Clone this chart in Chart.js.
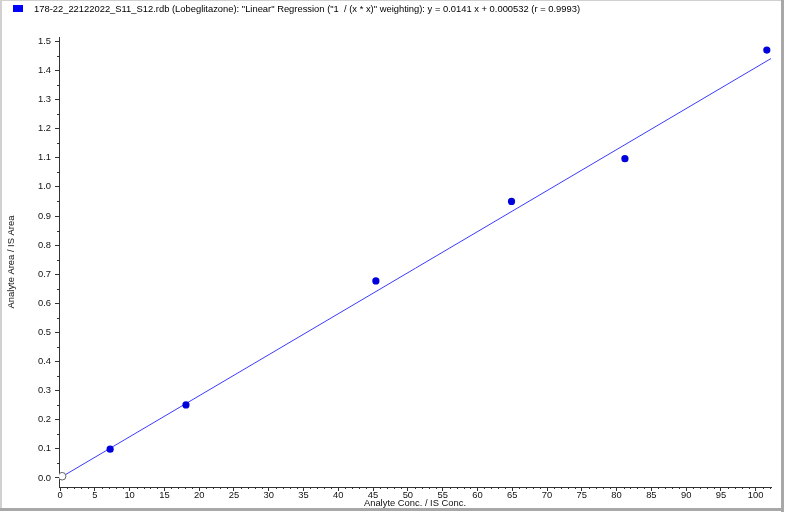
<!DOCTYPE html>
<html>
<head>
<meta charset="utf-8">
<script src="https://cdn.jsdelivr.net/npm/chart.js@4/dist/chart.umd.min.js"></script>
<style>
html,body{margin:0;padding:0;background:#fff;}
#wrap{width:786px;height:512px;position:relative;}
</style>
</head>
<body>
<div id="wrap"><canvas id="c" width="786" height="512"></canvas></div>
<script>
const legendText = '178-22_22122022_S11_S12.rdb (Lobeglitazone): "Linear" Regression ("1  / (x * x)" weighting): y = 0.0141 x + 0.000532 (r = 0.9993)';
const xTitle = 'Analyte Conc. / IS Conc.';
const yTitle = 'Analyte Area / IS Area';

const concX = [7.2, 18.1, 45.4, 64.9, 81.2, 101.6];
const ratioY = [0.099, 0.251, 0.677, 0.950, 1.097, 1.470];
const excludedX = [0.3];
const excludedY = [0.006];
const fitX = [0, 102.2];
const fitY = [0.000532, 1.441];

const xTickValues = [0,5,10,15,20,25,30,35,40,45,50,55,60,65,70,75,80,85,90,95,100];
const yTickValues = [0,0.1,0.2,0.3,0.4,0.5,0.6,0.7,0.8,0.9,1.0,1.1,1.2,1.3,1.4,1.5];

const FONT = "'Liberation Sans', Arial, sans-serif";
const FS = 9.4;
const pts = (xs, ys) => xs.map((x,i)=>({x:x, y:ys[i]}));

const framePlugin = {
  id:'frame',
  beforeDraw(chart){
    const ctx = chart.ctx;
    ctx.save();
    ctx.fillStyle = '#fff';
    ctx.fillRect(0,0,chart.width,chart.height);
    ctx.restore();
  },
  afterDraw(chart){
    const ctx = chart.ctx;
    ctx.save();
    ctx.fillStyle = '#d0d0d0';
    ctx.fillRect(0,0,784,1);
    ctx.fillRect(0,0,2,511);
    ctx.fillStyle = '#a8a8a8';
    ctx.fillRect(781,0,3,512);
    ctx.fillRect(0,508,784,3);
    ctx.fillStyle = '#0000ff';
    ctx.fillRect(13,5,10,7);
    ctx.fillStyle = '#000';
    ctx.font = FS + "px " + FONT;
    ctx.textBaseline = 'middle';
    ctx.textAlign = 'left';
    ctx.fillText(legendText, 34, 9.5);
    const xs = chart.scales.x, ys = chart.scales.y;
    ctx.strokeStyle = '#333';
    ctx.lineWidth = 1;
    ctx.beginPath();
    for (let v = 1; v <= Math.floor(xs.max); v++) {
      if (v % 5 === 0) continue;
      const px = Math.round(xs.getPixelForValue(v)) + 0.5;
      ctx.moveTo(px, xs.top); ctx.lineTo(px, xs.top + 2);
    }
    for (let k = 1; k <= 30; k += 2) {
      const v = k * 0.05;
      if (v > ys.max) break;
      const py = Math.round(ys.getPixelForValue(v)) + 0.5;
      ctx.moveTo(ys.right, py); ctx.lineTo(ys.right - 2, py);
    }
    ctx.stroke();
    ctx.restore();
  }
};

new Chart(document.getElementById('c'), {
  type:'scatter',
  data:{
    datasets:[
      {label:'fit', data:pts(fitX, fitY), showLine:true, borderColor:'#3b3bff', borderWidth:1, pointRadius:0, order:3},
      {label:'excluded', data:pts(excludedX, excludedY), pointRadius:3.8, pointBackgroundColor:'#fff', pointBorderColor:'#666', pointBorderWidth:1, order:2},
      {label:'standards', data:pts(concX, ratioY), pointRadius:3.6, pointBackgroundColor:'#0000dd', pointBorderColor:'#0000dd', pointBorderWidth:0, order:1}
    ]
  },
  options:{
    responsive:false,
    animation:false,
    events:[],
    layout:{padding:{left:4, right:15, top:37, bottom:0}},
    plugins:{legend:{display:false}, tooltip:{enabled:false}},
    scales:{
      x:{
        type:'linear', min:-0.15, max:102.2,
        afterBuildTicks(s){ s.ticks = xTickValues.map(v=>({value:v})); },
        afterFit(s){ s.height = 25; },
        border:{display:true, color:'#333', width:1},
        grid:{display:true, drawOnChartArea:false, drawTicks:true, tickLength:4, color:'#333'},
        ticks:{font:{family:FONT, size:FS}, color:'#111', padding:-1, maxRotation:0, autoSkip:false,
               callback:(v)=>String(v)},
        title:{display:true, text:xTitle, font:{family:FONT, size:FS}, color:'#111', padding:{top:0,bottom:3.3}}
      },
      y:{
        type:'linear', min:-0.031, max:1.515,
        afterBuildTicks(s){ s.ticks = yTickValues.map(v=>({value:v})); },
        afterFit(s){ s.width = 55; },
        border:{display:true, color:'#333', width:1},
        grid:{display:true, drawOnChartArea:false, drawTicks:true, tickLength:4, color:'#333'},
        ticks:{font:{family:FONT, size:FS}, color:'#111', padding:4, autoSkip:false,
               callback:(v)=>Number(v).toFixed(1)},
        title:{display:true, text:yTitle, font:{family:FONT, size:FS}, color:'#111', padding:{top:2,bottom:0}}
      }
    }
  },
  plugins:[framePlugin]
});
</script>
</body>
</html>
